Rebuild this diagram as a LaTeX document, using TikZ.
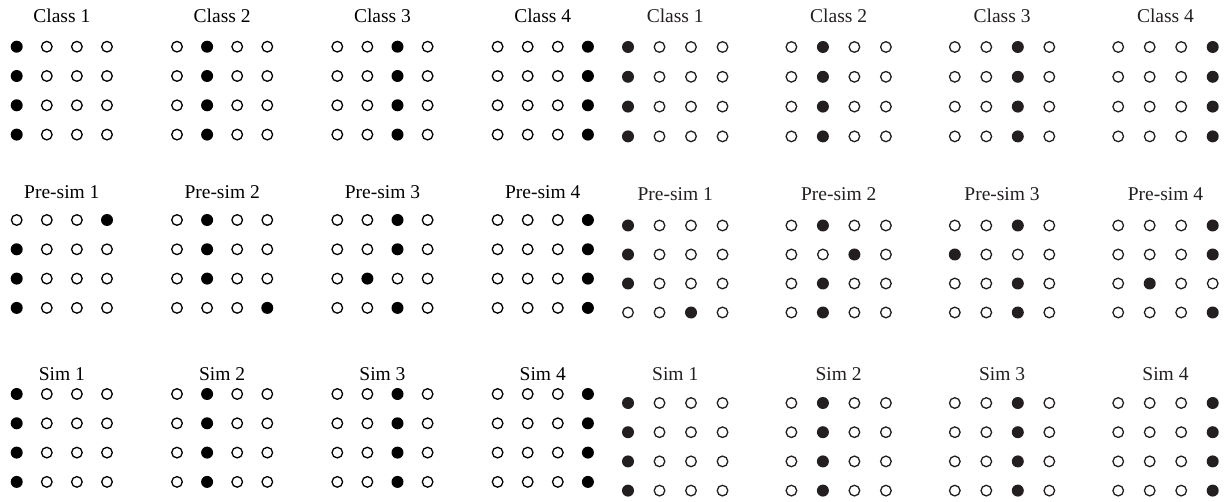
\documentclass[tikz,border=0pt]{standalone}
\usepackage{fontspec}
\setmainfont{Liberation Serif}
\definecolor{inkR}{HTML}{231F20}
\tikzset{
  full/.style={circle,fill=#1,draw=none,inner sep=0pt,minimum size=12pt},
  hollow/.style={circle,draw=#1,fill=white,line width=1.3pt,inner sep=0pt,minimum size=10.6pt},
  ttl/.style={anchor=base,inner sep=0pt,text=#1,font=\fontsize{19.5}{22}\selectfont},
}
% #1 prefix, #2 x0, #3 y0, #4 dx, #5 dy, #6 title, #7 title baseline, #8 pattern, #9 colour
\newcommand{\dotblock}[9]{%
  \node[ttl=#9] (#1t) at ({#2+1.5*#4},#7) {#6};
  \foreach \f [count=\r] in {#8} {
    \foreach \c in {1,...,4} {
      \ifnum\c=\f\relax
        \node[full=#9] (#1-\r-\c) at ({#2+(\c-1)*#4},{#3+(\r-1)*#5}) {};
      \else
        \node[hollow=#9] (#1-\r-\c) at ({#2+(\c-1)*#4},{#3+(\r-1)*#5}) {};
      \fi
    }
  }
}
\begin{document}
\begin{tikzpicture}[x=1pt,y=-1pt]
\useasboundingbox (0,0) rectangle (1230,502);
% left half
\foreach \b in {1,...,4} {
  \pgfmathsetmacro{\xo}{16.7+160.3*(\b-1)}
  \dotblock{LC\b}{\xo}{46.7}{30.1}{29.3}{Class \b}{23}{\b,\b,\b,\b}{black}
  \dotblock{LS\b}{\xo}{394}{30.1}{29.3}{Sim \b}{380}{\b,\b,\b,\b}{black}
}
\dotblock{LP1}{16.7}{220}{30.1}{29.3}{Pre-sim 1}{199}{4,1,1,1}{black}
\dotblock{LP2}{177.0}{220}{30.1}{29.3}{Pre-sim 2}{199}{2,2,2,4}{black}
\dotblock{LP3}{337.3}{220}{30.1}{29.3}{Pre-sim 3}{199}{3,3,2,3}{black}
\dotblock{LP4}{497.6}{220}{30.1}{29.3}{Pre-sim 4}{199}{4,4,4,4}{black}
% right half
\foreach \b in {1,...,4} {
  \pgfmathsetmacro{\xo}{628+163.4*(\b-1)}
  \dotblock{RC\b}{\xo}{47}{31.5}{29.8}{Class \b}{23}{\b,\b,\b,\b}{inkR}
  \dotblock{RS\b}{\xo}{403}{31.5}{29.2}{Sim \b}{380}{\b,\b,\b,\b}{inkR}
}
\dotblock{RP1}{628}{225.5}{31.5}{29}{Pre-sim 1}{201}{1,1,1,3}{inkR}
\dotblock{RP2}{791.4}{225.5}{31.5}{29}{Pre-sim 2}{201}{2,3,2,2}{inkR}
\dotblock{RP3}{954.8}{225.5}{31.5}{29}{Pre-sim 3}{201}{3,1,3,3}{inkR}
\dotblock{RP4}{1118.2}{225.5}{31.5}{29}{Pre-sim 4}{201}{4,4,2,4}{inkR}
\end{tikzpicture}
\end{document}
